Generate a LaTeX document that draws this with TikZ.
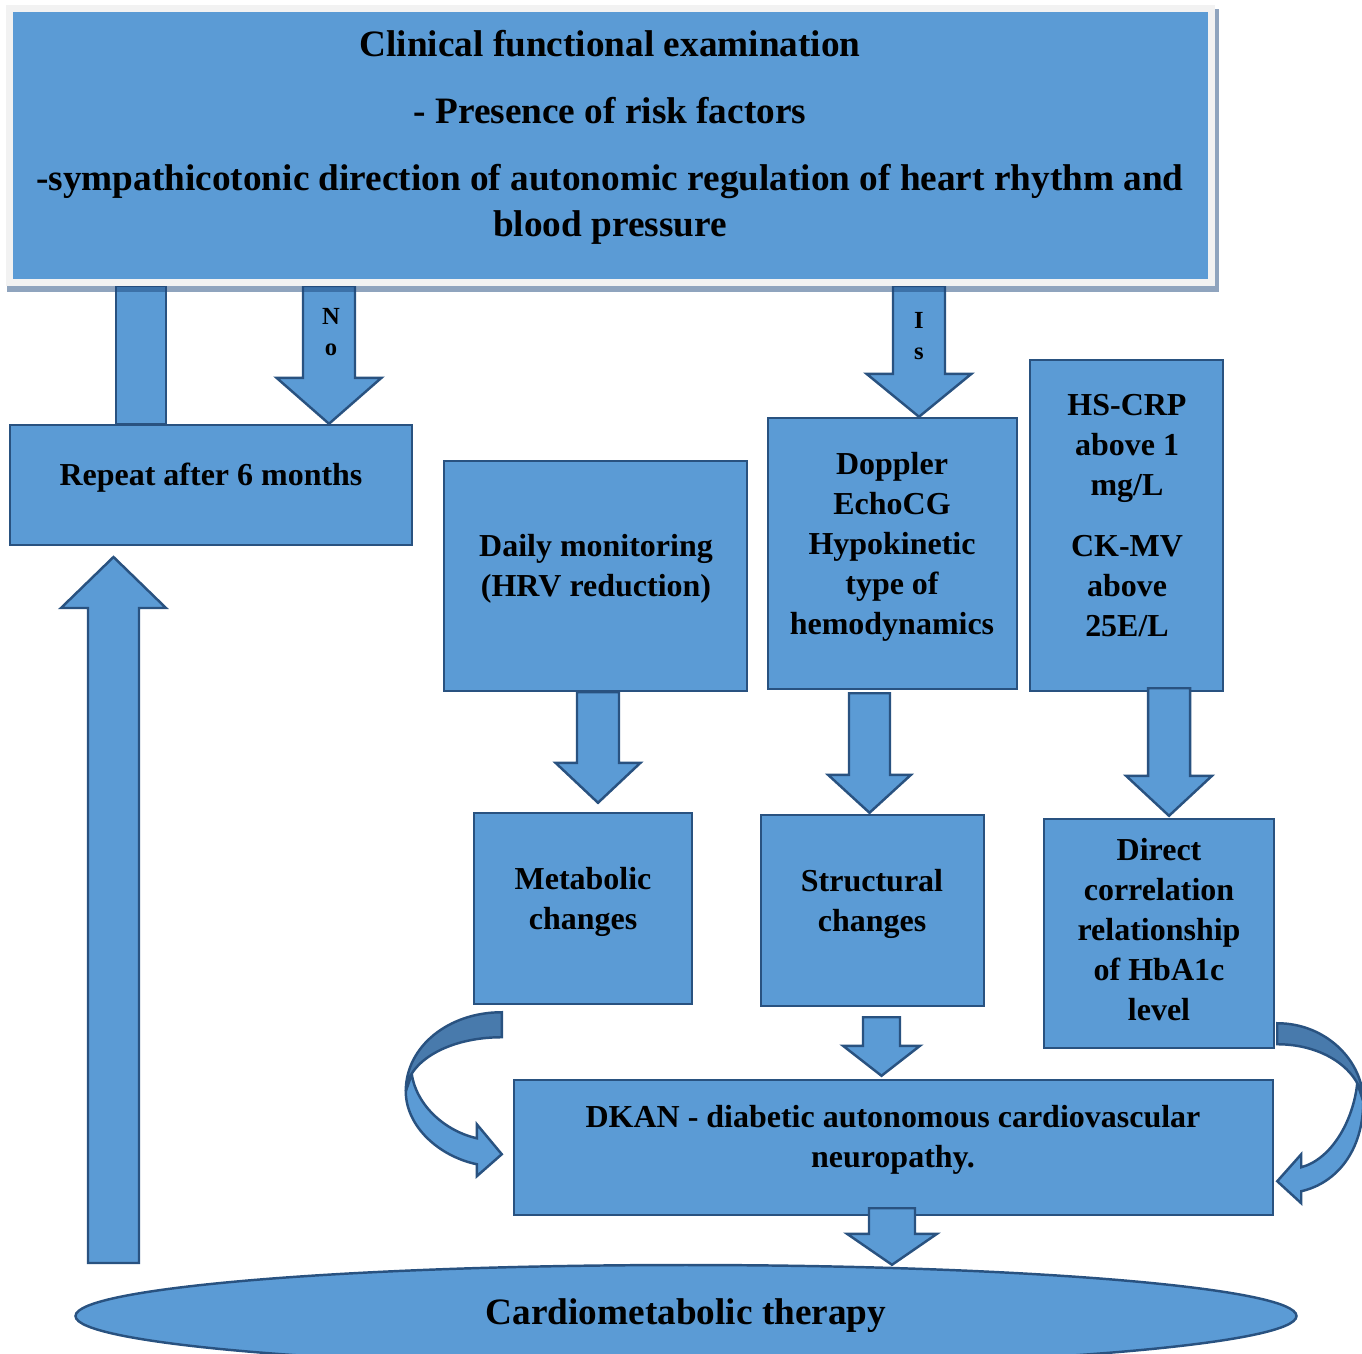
\documentclass[tikz,border=0pt]{standalone}
\usepackage{fontspec}
\setmainfont{Liberation Serif}
\usepackage{tikz}
\usetikzlibrary{
  calc,
  backgrounds,
  shapes.geometric,
}
\definecolor{dkBlue}  {RGB}{ 91, 155, 213}
\definecolor{dkEdge}  {RGB}{ 41,  82, 128}
\definecolor{dkBack}  {RGB}{ 72, 122, 172}
\definecolor{dkFrame} {RGB}{242, 242, 242}
\definecolor{dkShadow}{RGB}{ 31,  73, 125}

% block arrow: x, shaft half, head half, head length, from, to, top offset, tip offset
\newcommand{\blockarrow}[8]{%
  \coordinate (ba) at ($(#1,0 |- #5)+(0,#7)$);
  \coordinate (bb) at ($(#1,0 |- #6)+(0,#8)$);
  \draw[blk] ($(ba)+(-#2,0)$) -- ($(ba)+(#2,0)$) -- ($(bb)+(#2,{-1*(#4)})$)
    -- ($(bb)+(#3,{-1*(#4)})$) -- (bb) -- ($(bb)+(-#3,{-1*(#4)})$)
    -- ($(bb)+(-#2,{-1*(#4)})$) -- cycle;}

\begin{document}
\begin{tikzpicture}[
  x=0.1mm, y=-0.1mm,
  box/.style  ={draw=dkEdge, line width=0.7pt, fill=dkBlue, inner sep=0pt},
  blk/.style  ={draw=dkEdge, line width=0.7pt, fill=dkBlue, line join=miter},
  back/.style ={draw=dkEdge, line width=0.7pt, fill=dkBack},
  txt/.style  ={font=\fontsize{9.1}{11.4}\selectfont\bfseries, align=center,
                inner sep=0pt, text=black},
  bigtxt/.style={font=\fontsize{10.6}{13.1}\selectfont\bfseries, align=center,
                inner sep=0pt, text=black},
  arrtxt/.style={font=\fontsize{7}{8.8}\selectfont\bfseries, align=center,
                inner sep=0pt, text=black},
]
  \useasboundingbox (0,0) rectangle (1362,1353);

  % Header box with its grey frame
  \node[draw=dkFrame, line width=0.7mm, fill=dkBlue, inner sep=0pt,
        minimum width=120.2mm, minimum height=27.4mm] (top) at (610.5,145.5) {};
  \node[bigtxt] (topT) at (610,137.5)
    {Clinical functional examination\\[2.1mm]
     - Presence of risk factors\\[2.1mm]
     -sympathicotonic direction of autonomic regulation of heart rhythm and\\
     blood pressure};

  % Boxes, left to right and top to bottom
  \node[box, minimum width=40.2mm, minimum height=12mm]   (rep)    at (211,485)    {};
  \node[box, minimum width=30.3mm, minimum height=23mm]   (daily)  at (595.5,576)  {};
  \node[box, minimum width=24.9mm, minimum height=27.1mm] (dop)    at (892.5,553.5) {};
  \node[box, minimum width=19.3mm, minimum height=33.1mm] (crp)    at (1126.5,525.5) {};
  \node[box, minimum width=21.8mm, minimum height=19.1mm] (meta)   at (583,908.5)  {};
  \node[box, minimum width=22.3mm, minimum height=19.1mm] (struc)  at (872.5,910.5) {};
  \node[box, minimum width=23mm,   minimum height=22.9mm] (direct) at (1159,933.5) {};
  \node[box, minimum width=75.9mm, minimum height=13.5mm] (dkan)   at (893.5,1147.5) {};
  \node[box, ellipse, minimum width=122.1mm, minimum height=10.2mm,
        font=\fontsize{10.6}{13.1}\selectfont\bfseries] (ther) at (686,1316)
    {Cardiometabolic therapy};

  % Texts of the boxes
  \node[txt] (repT)    at (211,478)    {Repeat after 6 months};
  \node[txt] (dailyT)  at (596,569)    {Daily monitoring\\(HRV reduction)};
  \node[txt] (dopT)    at (892,547)    {Doppler\\EchoCG\\Hypokinetic\\type of\\hemodynamics};
  \node[txt] (crpT)    at (1127,515.5) {HS-CRP\\above 1\\mg/L\\[2.1mm]CK-MV\\above\\25E/L};
  \node[txt] (metaT)   at (583,902)    {Metabolic\\changes};
  \node[txt] (strucT)  at (872,904)    {Structural\\changes};
  \node[txt] (directT) at (1159,929.5) {Direct\\correlation\\relationship\\of HbA1c\\level};
  \node[txt] (dkanT)   at (893,1140)   {DKAN - diabetic autonomous cardiovascular\\neuropathy.};

  % Arrows leaving the header, under its shadow
  \begin{scope}[on background layer]
    \draw[blk] (116,0 |- top.south) rectangle (166,0 |- rep.north);
    \blockarrow{329}{26}{52.5}{46}{top.south}{rep.north}{0}{0}
    \blockarrow{919}{26}{52.5}{43}{top.south}{dop.north}{0}{0}
    \fill[dkShadow, fill opacity=0.5] (7,9) rectangle (1219,292);
  \end{scope}
  \node[arrtxt] (noT) at (331,332) {N\\o};
  \node[arrtxt] (isT) at (919,336) {I\\s};

  % Straight arrows between boxes
  \blockarrow{598}{21}{42.5}{40}{daily.south}{meta.north}{0}{-9}
  \blockarrow{869.5}{20.5}{41.5}{38}{dop.south}{struc.north}{3}{-1}
  \blockarrow{1169}{21}{43}{40}{crp.south}{direct.north}{-4}{-2}
  \blockarrow{881.5}{18.5}{38.5}{30}{struc.south}{dkan.north}{10}{-3}
  \blockarrow{892}{23}{45}{31}{dkan.south}{ther.north}{-8}{1}

  % Long arrow back up to the repeat box
  \coordinate (upBase) at (113.5,1263);
  \coordinate (upTip)  at (113.5,557);
  \blockarrow{113.5}{25.5}{52.5}{-51}{upBase}{upTip}{0}{0}

  % Curved arrows into the DKAN box
  \begin{scope}[shift={(meta.south west)}]
    \draw[blk] (-67,86) .. controls (-67,121) and (-34,151) .. (4,159) -- (4,171)
      -- (29,149) -- (4,119) -- (4,133) .. controls (-27,126) and (-56,101) .. (-61,69) -- cycle;
    \draw[back] (29,7) .. controls (-24,7) and (-67,41) .. (-67,86)
      .. controls (-65,56) and (-24,32) .. (29,32) -- cycle;
  \end{scope}
  \begin{scope}[shift={(direct.south east)}]
    \draw[blk] (88,52) .. controls (88,102) and (61,134) .. (26,142) -- (26,154)
      -- (2,132) -- (26,105) -- (26,118) .. controls (56,110) and (78,72) .. (82,34) -- cycle;
    \draw[back] (2,-26) .. controls (51,-26) and (88,12) .. (88,52)
      .. controls (84,20) and (48,-5) .. (2,-5) -- cycle;
  \end{scope}
\end{tikzpicture}
\end{document}
